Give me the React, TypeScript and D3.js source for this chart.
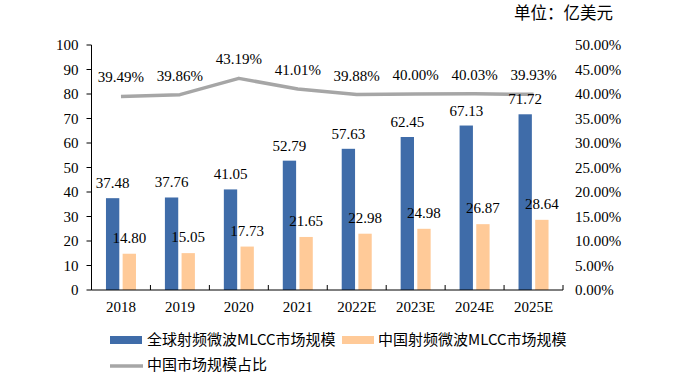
import React from "react";
import * as d3 from "d3";

const categories = ["2018", "2019", "2020", "2021", "2022E", "2023E", "2024E", "2025E"];
const globalSize = [37.48, 37.76, 41.05, 52.79, 57.63, 62.45, 67.13, 71.72];
const chinaSize = [14.8, 15.05, 17.73, 21.65, 22.98, 24.98, 26.87, 28.64];
const chinaShare = [39.49, 39.86, 43.19, 41.01, 39.88, 40.0, 40.03, 39.93];
const leftTicks = [0, 10, 20, 30, 40, 50, 60, 70, 80, 90, 100];
const rightTicks = [0, 5, 10, 15, 20, 25, 30, 35, 40, 45, 50];
const seriesNames = ["全球射频微波MLCC市场规模", "中国射频微波MLCC市场规模", "中国市场规模占比"];

const BLUE = "#3f6ca9";
const ORANGE = "#ffca98";
const GRAY = "#a6a6a6";
const SERIF = "'Liberation Serif', 'Times New Roman', serif";
const CJK = "'Noto Sans CJK SC', sans-serif";

export default function App() {
  const W = 682, H = 384;
  const left = 91.5, right = 563, top = 45, bottom = 290;
  const x0 = d3.scaleBand<string>().domain(categories).range([left, right]).padding(0);
  const x1 = d3.scaleBand<string>().domain(["g", "c"]).range([-15, 15]).paddingInner(0.2);
  const yL = d3.scaleLinear().domain([0, 100]).range([bottom, top]);
  const yR = d3.scaleLinear().domain([0, 50]).range([bottom, top]);
  const cx = (c: string) => (x0(c) as number) + x0.bandwidth() / 2;
  const line = d3
    .line<number>()
    .x((_, i) => cx(categories[i]))
    .y((d) => yR(d));

  const bw = x1.bandwidth();
  const fs = 15;

  return (
    <svg width={W} height={H} style={{ position: "absolute", left: 0, top: 0, background: "#fff" }}>
      {/* bars */}
      {categories.map((c, i) => (
        <g key={c}>
          <rect x={cx(c) + (x1("g") as number)} y={yL(globalSize[i])} width={bw} height={bottom - yL(globalSize[i])} fill={BLUE} />
          <rect x={cx(c) + (x1("c") as number)} y={yL(chinaSize[i])} width={bw} height={bottom - yL(chinaSize[i])} fill={ORANGE} />
        </g>
      ))}
      {/* line */}
      <path d={line(chinaShare) || ""} fill="none" stroke={GRAY} strokeWidth={3.5} strokeLinejoin="round" />
      {/* labels */}
      {categories.map((c, i) => (
        <g key={"l" + c} fontFamily={SERIF} fontSize={fs} fill="#000" textAnchor="middle">
          <text x={cx(c) + (x1("g") as number) + bw / 2} y={yL(globalSize[i]) - 10}>
            {globalSize[i].toFixed(2)}
          </text>
          <text x={cx(c) + (x1("c") as number) + bw / 2} y={yL(chinaSize[i]) - 11}>
            {chinaSize[i].toFixed(2)}
          </text>
          <text x={cx(c)} y={yR(chinaShare[i]) - 14}>
            {chinaShare[i].toFixed(2)}%
          </text>
        </g>
      ))}
      {/* left axis */}
      <line x1={left} x2={left} y1={top} y2={bottom} stroke="#000" strokeWidth={1} />
      {leftTicks.map((t) => (
        <g key={"lt" + t}>
          <line x1={left - 5} x2={left} y1={yL(t)} y2={yL(t)} stroke="#000" />
          <text x={left - 13} y={yL(t)} dy="0.35em" textAnchor="end" fontFamily={SERIF} fontSize={fs}>
            {t}
          </text>
        </g>
      ))}
      {/* right axis labels */}
      {rightTicks.map((t) => (
        <text key={"rt" + t} x={right + 12} y={yR(t)} dy="0.35em" textAnchor="start" fontFamily={SERIF} fontSize={fs}>
          {t.toFixed(2)}%
        </text>
      ))}
      {/* bottom axis */}
      <line x1={left} x2={right} y1={bottom} y2={bottom} stroke="#000" />
      {categories.map((c) => (
        <line key={"bt" + c} x1={(x0(c) as number) + x0.bandwidth()} x2={(x0(c) as number) + x0.bandwidth()} y1={bottom - 5} y2={bottom} stroke="#000" />
      ))}
      {categories.map((c) => (
        <text key={"bl" + c} x={cx(c)} y={bottom + 22} textAnchor="middle" fontFamily={SERIF} fontSize={fs}>
          {c}
        </text>
      ))}
      {/* unit */}
      <text x={613} y={19} textAnchor="end" fontFamily={CJK} fontSize={16.5}>
        单位：亿美元
      </text>
      {/* legend */}
      <rect x={110} y={336} width={32} height={8} fill={BLUE} />
      <text x={147} y={340} dy="0.35em" fontFamily={CJK} fontSize={15}>
        {seriesNames[0]}
      </text>
      <rect x={342} y={336} width={32} height={8} fill={ORANGE} />
      <text x={378} y={340} dy="0.35em" fontFamily={CJK} fontSize={15}>
        {seriesNames[1]}
      </text>
      <line x1={110} x2={143} y1={366} y2={366} stroke={GRAY} strokeWidth={3.5} />
      <text x={147} y={365} dy="0.35em" fontFamily={CJK} fontSize={15}>
        {seriesNames[2]}
      </text>
    </svg>
  );
}
